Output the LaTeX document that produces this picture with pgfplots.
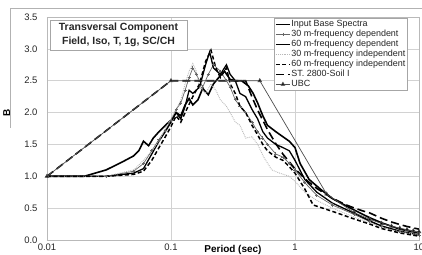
\documentclass[border=0pt]{standalone}
\usepackage{pgfplots}
\pgfplotsset{compat=1.18}
\usepackage{fontspec}
\setmainfont{Liberation Sans}
\begin{document}
\begin{tikzpicture}
\useasboundingbox (0,0) rectangle (422bp,255bp);
\begin{scope}
\clip (0,0) rectangle (422bp,255bp);
\draw[gray!60, line width=0.6bp] (10bp,127bp) -- (10bp,247bp) -- (422bp,247bp);
\begin{axis}[
  at={(47bp,15bp)}, anchor=south west,
  scale only axis, width=372bp, height=223bp,
  xmode=log, xmin=0.01, xmax=10, ymin=0, ymax=3.5,
  xtick={0.01,0.1,1,10}, xticklabels={0.01,0.1,1,10},
  xminorticks=false,
  ytick={0,0.5,1,1.5,2,2.5,3,3.5},
  yticklabel style={/pgf/number format/fixed,/pgf/number format/fixed zerofill,/pgf/number format/precision=1, xshift=-6bp},
  /pgf/number format/assume math mode=true,
  grid=major, major grid style={gray!35, line width=0.6bp},
  axis line style={gray!55, line width=0.6bp},
  major tick length=0pt, minor tick length=0pt,
  ticklabel style={font=\fontsize{9.5}{10}\selectfont, text=black!85},
  xlabel={Period (sec)}, ylabel={B},
  xlabel style={font=\bfseries\fontsize{10}{11}\selectfont, at={(axis description cs:0.5,0)}, anchor=center, yshift=-10bp},
  ylabel style={font=\bfseries\fontsize{10}{11}\selectfont, at={(axis description cs:-0.108,0.57)}, anchor=center},
  legend cell align=left,
  legend style={at={(rel axis cs:0.61,0.9955)}, anchor=north west, draw=gray!70, fill=white,
    font=\fontsize{9}{10}\selectfont, inner sep=1bp, row sep=-0.2bp,
    nodes={inner sep=0.6bp, text height=7bp, text depth=2bp, text=black!85}},
  legend image code/.code={\draw[mark repeat=2,mark phase=2,#1] plot coordinates {(0bp,0bp) (7bp,0bp) (14bp,0bp)};},
]
% Input Base Spectra
\addplot[black, line width=1.6bp] coordinates {
(0.01,1.0)(0.02,1.0)(0.03,1.1)(0.04,1.22)(0.05,1.32)(0.055,1.4)(0.06,1.55)(0.066,1.48)(0.072,1.6)(0.08,1.7)(0.09,1.8)(0.1,1.88)(0.11,2.0)(0.12,1.95)(0.13,2.12)(0.14,2.22)(0.15,2.12)(0.165,2.2)(0.18,2.38)(0.2,2.28)(0.22,2.45)(0.25,2.58)(0.27,2.65)(0.3,2.52)(0.33,2.5)(0.37,2.5)(0.42,2.42)(0.46,2.3)(0.5,2.15)(0.55,1.95)(0.6,1.8)(0.7,1.7)(0.8,1.62)(0.9,1.55)(1.0,1.45)(1.1,1.2)(1.3,0.95)(1.6,0.8)(2,0.65)(3,0.47)(4,0.35)(5,0.27)(7,0.17)(10,0.11)};
\addlegendentry{Input Base Spectra}
% 30 m-frequency dependent
\addplot[black!60, line width=0.7bp, mark=+, mark size=1.6bp, mark options={solid}] coordinates {
(0.01,1.0)(0.03,1.0)(0.05,1.08)(0.06,1.2)(0.07,1.4)(0.08,1.58)(0.09,1.72)(0.1,1.88)(0.11,2.05)(0.12,2.15)(0.13,2.35)(0.14,2.55)(0.15,2.7)(0.16,2.6)(0.18,2.4)(0.2,2.6)(0.22,2.75)(0.25,2.65)(0.28,2.5)(0.3,2.4)(0.33,2.2)(0.36,2.1)(0.4,2.0)(0.45,1.85)(0.5,1.7)(0.55,1.6)(0.6,1.5)(0.7,1.35)(0.8,1.3)(0.9,1.2)(1.0,1.1)(1.2,0.9)(1.5,0.7)(2,0.55)(3,0.4)(4,0.29)(5,0.21)(7,0.13)(10,0.08)};
\addlegendentry{30 m-frequency dependent}
% 60 m-frequency dependent
\addplot[black, line width=1.3bp] coordinates {
(0.01,1.0)(0.03,1.0)(0.05,1.05)(0.06,1.12)(0.07,1.35)(0.08,1.55)(0.09,1.7)(0.1,1.85)(0.11,2.0)(0.12,1.9)(0.13,2.1)(0.14,2.35)(0.15,2.3)(0.17,2.4)(0.19,2.75)(0.205,2.95)(0.22,2.7)(0.25,2.6)(0.28,2.75)(0.3,2.6)(0.33,2.5)(0.36,2.3)(0.4,2.25)(0.45,2.05)(0.5,1.9)(0.55,1.7)(0.6,1.6)(0.7,1.5)(0.8,1.45)(0.9,1.4)(1.0,1.25)(1.2,0.95)(1.5,0.75)(2,0.58)(3,0.42)(4,0.3)(5,0.22)(7,0.14)(10,0.08)};
\addlegendentry{60 m-frequency dependent}
% 30 m-frequency independent
\addplot[gray!55, line width=0.9bp, densely dotted] coordinates {
(0.01,1.0)(0.03,1.0)(0.05,1.1)(0.06,1.25)(0.07,1.4)(0.08,1.55)(0.09,1.75)(0.1,1.9)(0.11,2.05)(0.12,2.2)(0.13,2.45)(0.14,2.65)(0.15,2.77)(0.16,2.65)(0.17,2.4)(0.19,2.3)(0.21,2.45)(0.23,2.35)(0.25,2.2)(0.28,2.1)(0.3,2.0)(0.33,1.85)(0.36,1.8)(0.4,1.6)(0.45,1.62)(0.5,1.5)(0.56,1.3)(0.65,1.1)(0.75,1.05)(0.9,1.0)(1,0.92)(1.2,0.75)(1.5,0.62)(2,0.5)(3,0.36)(4,0.27)(5,0.2)(7,0.13)(10,0.08)};
\addlegendentry{30 m-frequency independent}
% 60 m-frequency independent
\addplot[black, line width=1.5bp, dash pattern=on 4bp off 2.5bp] coordinates {
(0.01,1.0)(0.03,1.0)(0.05,1.03)(0.06,1.08)(0.07,1.25)(0.08,1.45)(0.09,1.62)(0.1,1.78)(0.11,1.95)(0.12,1.85)(0.13,2.0)(0.15,2.25)(0.17,2.45)(0.19,2.8)(0.21,2.98)(0.23,2.7)(0.25,2.55)(0.28,2.7)(0.3,2.45)(0.33,2.3)(0.36,2.1)(0.4,2.0)(0.45,1.8)(0.5,1.65)(0.55,1.5)(0.6,1.4)(0.7,1.3)(0.8,1.25)(0.9,1.15)(1.0,1.05)(1.2,0.8)(1.4,0.55)(2,0.45)(3,0.33)(4,0.25)(5,0.18)(7,0.11)(10,0.06)};
\addlegendentry{60 m-frequency independent}
% ST. 2800-Soil I
\addplot[black, line width=1.6bp, dash pattern=on 8bp off 4bp] coordinates {
(0.01,1)(0.1,2.5)(0.4,2.5)(0.45,2.244)(0.5,2.039)(0.6,1.732)(0.7,1.512)(0.8,1.347)(1,1.117)(1.25,0.932)(1.5,0.809)(2,0.656)(2.5,0.563)(3,0.502)(3.5,0.458)(4,0.425)(5,0.34)(6,0.283)(7,0.243)(8,0.2125)(10,0.17)};
\addlegendentry{ST. 2800-Soil I}
% UBC
\addplot[black!70, line width=0.7bp, mark=triangle*, mark size=2bp, mark options={solid, fill=black}] coordinates {
(0.01,1.0)(0.1,2.5)(0.52,2.5)(1.8,0.72)(3,0.43)(4,0.325)(5,0.26)(6,0.217)(7,0.186)(8,0.163)(9,0.144)(10,0.13)};
\addlegendentry{UBC}
\end{axis}
\node[draw=gray!70, fill=white, align=center, font=\bfseries\fontsize{10.5}{14}\selectfont, inner sep=2bp, minimum width=137bp, minimum height=30bp, text=black!85] at (118.5bp,220bp) {Transversal Component\\Field, Iso, T, 1g, SC/CH};
\end{scope}
\end{tikzpicture}
\end{document}
